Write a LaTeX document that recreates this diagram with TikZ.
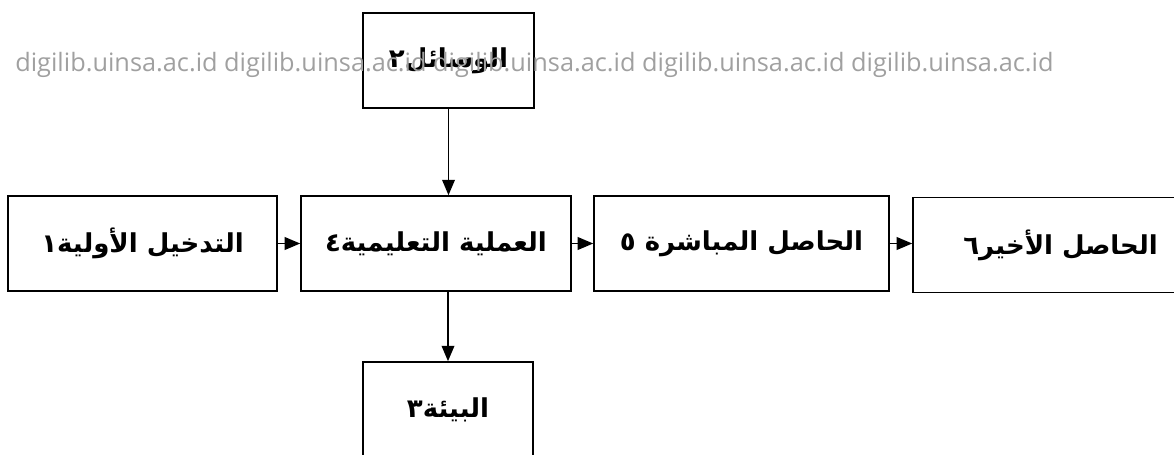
\documentclass[tikz,border=0pt]{standalone}
\usepackage{fontspec}
\setmainfont{DejaVu Sans}
\newfontfamily\arabicfont[Script=Arabic]{DejaVu Sans}
\newfontfamily\markfont{Open Sans}
\usetikzlibrary{arrows.meta}
\TeXXeTstate=1
\definecolor{markgray}{RGB}{160,160,160}

\tikzset{
  stage/.style={draw, line width=1.1pt, inner sep=0pt, minimum height=2.375cm,
    font=\arabicfont\bfseries\fontsize{18.5}{22}\selectfont},
  flow/.style={-{Triangle[length=11pt,width=9pt]}, line width=1.2pt}
}

\begin{document}
\begin{tikzpicture}[x=0.025cm,y=-0.025cm]
    \useasboundingbox (0,0) rectangle (1174,454);
    \clip (0,0) rectangle (1174,454);
      %boxes sit at the pixel centres of the scan; the last two run off the page
    \node[stage, minimum width=4.275cm] (wasail) at (448.5,60.5) {\beginR الوسائل٢\endR};
    \node[stage, minimum width=6.725cm] (tadkhil) at (142.5,243.5) {\beginR التدخيل الأولية١\endR};
    \node[stage, minimum width=6.75cm] (amaliya) at (436,243.5) {\beginR العملية التعليمية٤\endR};
    \node[stage, minimum width=7.375cm] (mubashir) at (741.5,243.5) {\beginR الحاصل المباشرة ٥\endR};
    \node[stage, minimum width=7.375cm] (akhir) at (1060.5,245) {\beginR الحاصل الأخير٦\endR};
    \node[stage, minimum width=4.25cm] (biah) at (448,409.5) {\beginR البيئة٣\endR};
      %connectors
    \draw[flow] (wasail.south) -- (wasail.south |- amaliya.north);
    \draw[flow] (tadkhil.east) -- (tadkhil.east -| amaliya.west);
    \draw[flow] (amaliya.east) -- (amaliya.east -| mubashir.west);
    \draw[flow] (mubashir.east) -- (mubashir.east -| akhir.west);
    \draw[flow] (biah.north |- amaliya.south) -- (biah.north);
      %watermark line over the scan
    \node[anchor=base west, inner sep=0pt, text=markgray, font=\markfont\fontsize{18}{20}\selectfont] (mark) at (15,71)
      {digilib.uinsa.ac.id digilib.uinsa.ac.id digilib.uinsa.ac.id digilib.uinsa.ac.id digilib.uinsa.ac.id};
\end{tikzpicture}
\end{document}
